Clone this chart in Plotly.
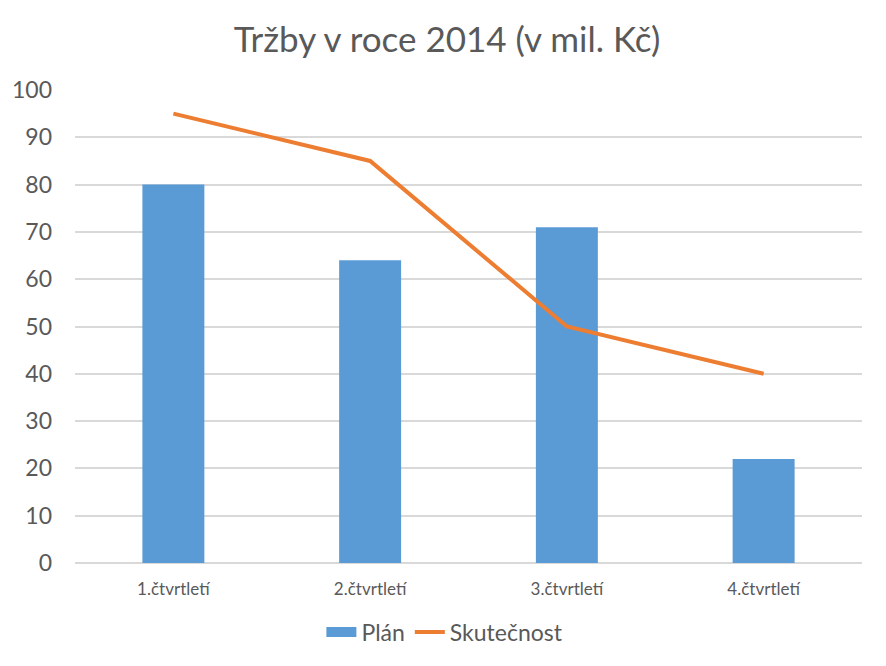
import plotly.graph_objects as go

kvartaly = ['1.čtvrtletí', '2.čtvrtletí', '3.čtvrtletí', '4.čtvrtletí']
plan = [80, 64, 71, 22]
skutecnost = [95, 85, 50, 40]
y_ticks = [0, 10, 20, 30, 40, 50, 60, 70, 80, 90, 100]

text_color = '#595959'
font_family = 'Lato, "Open Sans", sans-serif'
blue = '#5B9BD5'
orange = '#ED7D31'

fig = go.Figure()

# sloupce - plán
fig.add_trace(go.Bar(
    x=kvartaly,
    y=plan,
    name='Plán',
    legendgroup='plan',
    showlegend=False,
    marker=dict(color=blue, line=dict(width=0)),
))

# legenda pro plán jako široký obdélník (jako v Excelu)
fig.add_trace(go.Scatter(
    x=[None], y=[None],
    mode='lines',
    name='Plán',
    legendgroup='plan',
    line=dict(color=blue, width=13),
    hoverinfo='skip',
))

# čára - skutečnost
fig.add_trace(go.Scatter(
    x=kvartaly,
    y=skutecnost,
    mode='lines',
    name='Skutečnost',
    line=dict(color=orange, width=4),
))

# stránka má 8px okraj, proto je figura o 8px menší
fig.update_layout(
    width=878,
    height=658,
    margin=dict(l=67, r=24, t=82, b=103),
    paper_bgcolor='white',
    plot_bgcolor='white',
    bargap=0.685,
    font=dict(family=font_family, color=text_color, size=20),
    title=dict(
        text='Tržby v roce 2014 (v mil. Kč)',
        x=0.5, xanchor='center',
        y=0.951, yanchor='middle',
        font=dict(size=35, color=text_color, family=font_family),
    ),
    legend=dict(
        orientation='h',
        x=0.47, xanchor='center',
        y=-0.146, yanchor='middle',
        font=dict(size=23, color=text_color),
        itemwidth=30,
        tracegroupgap=0,
    ),
)

fig.update_xaxes(
    showgrid=False,
    showline=False,
    ticks='',
    automargin=False,
    tickfont=dict(size=17, color=text_color),
    ticklabelstandoff=14,
)

fig.update_yaxes(
    range=[0, 100],
    tickvals=y_ticks,
    showgrid=True,
    gridcolor='#D9D9D9',
    gridwidth=1.5,
    zeroline=True,
    zerolinecolor='#D9D9D9',
    zerolinewidth=1.5,
    showline=False,
    ticks='',
    automargin=False,
    tickfont=dict(size=23, color=text_color),
    ticklabelstandoff=22,
)

fig.write_html("out.html")
